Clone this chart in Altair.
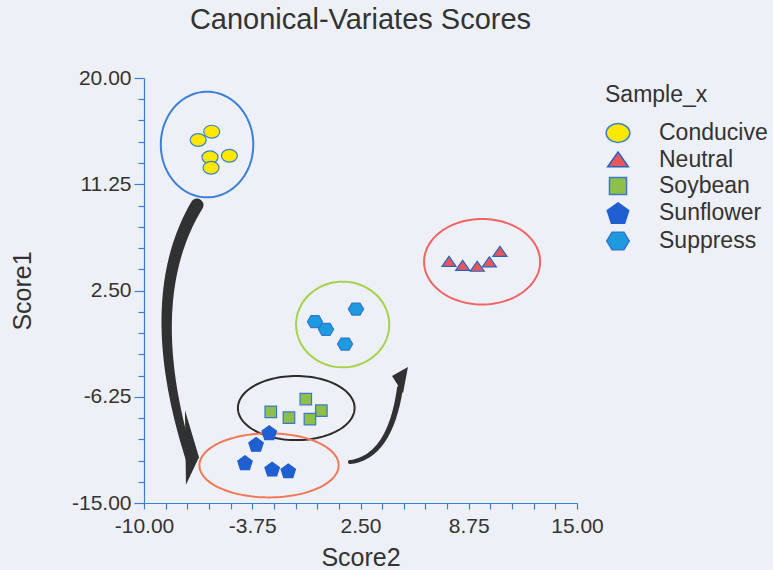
import altair as alt
import numpy as np
import pandas as pd

# ---- sample scores (Score2 on x, Score1 on y) ----
groups = ["Conducive", "Neutral", "Soybean", "Sunflower", "Suppress"]

conducive_x = [-6.87, -6.09, -6.19, -5.07, -6.13]
conducive_y = [14.89, 15.58, 13.47, 13.60, 12.61]
neutral_x = [7.61, 8.40, 9.24, 9.94, 10.55]
neutral_y = [4.87, 4.54, 4.46, 4.82, 5.69]
soybean_x = [-2.68, -1.63, -0.66, 0.24, -0.42]
soybean_y = [-7.49, -7.97, -6.44, -7.40, -8.09]
sunflower_x = [-2.77, -3.53, -4.17, -2.60, -1.67]
sunflower_y = [-9.21, -10.17, -11.68, -12.21, -12.35]
suppress_x = [-0.13, 0.51, 2.24, 1.61]
suppress_y = [-0.07, -0.70, 0.97, -1.91]

# ---- group outlines: centre and half-axes in data units ----
ring_names = ["conducive", "neutral", "suppress", "soybean", "sunflower"]
ring_cx = [-6.36, 9.52, 1.47, -1.21, -2.78]
ring_cy = [14.52, 4.87, -0.30, -7.18, -11.90]
ring_rx = [2.67, 3.35, 2.69, 3.37, 4.02]
ring_ry = [4.35, 3.52, 3.53, 2.64, 2.64]
ring_colors = ["#3b7fd8", "#f06464", "#a6d14a", "#2b2b2b", "#f07858"]

# ---- curved arrows: start, control, end (data units) ----
arrow_names = ["big", "small"]
arrow_p0 = [(-6.94, 9.54), (1.89, -11.63)]
arrow_c = [(-10.23, 1.71), (4.20, -11.22)]
arrow_p2 = [(-7.34, -11.47), (4.78, -5.54)]
arrow_w = [(13, 8), (4, 6)]
head_pos = [(-7.23, -10.40), (4.78, -4.88)]

# ---- axis ticks ----
x_ticks = np.round(np.arange(-10, 15.001, 1.25), 2).tolist()
y_ticks = np.round(np.arange(-15, 20.001, 1.75), 2).tolist()

FONT = "Liberation Sans"
TXT = "#333333"
AXIS_BLUE = "#3a80d0"

pts = pd.concat([
    pd.DataFrame({"Sample_x": g, "x": xs, "y": ys})
    for g, xs, ys in [
        ("Conducive", conducive_x, conducive_y),
        ("Neutral", neutral_x, neutral_y),
        ("Soybean", soybean_x, soybean_y),
        ("Sunflower", sunflower_x, sunflower_y),
        ("Suppress", suppress_x, suppress_y),
    ]
], ignore_index=True)

# outline paths
t = np.linspace(0, 2 * np.pi, 121)
rings = pd.concat([
    pd.DataFrame({"ring": n, "i": np.arange(len(t)),
                  "x": cx + rx * np.cos(t), "y": cy + ry * np.sin(t)})
    for n, cx, cy, rx, ry in zip(ring_names, ring_cx, ring_cy, ring_rx, ring_ry)
], ignore_index=True)

# tapered arrow bodies along quadratic Bezier curves
s = np.linspace(0, 1, 40)
arrows = pd.concat([
    pd.DataFrame({
        "arrow": n, "i": np.arange(len(s)),
        "x": (1 - s) ** 2 * p0[0] + 2 * (1 - s) * s * c[0] + s ** 2 * p2[0],
        "y": (1 - s) ** 2 * p0[1] + 2 * (1 - s) * s * c[1] + s ** 2 * p2[1],
        "w": w[0] + (w[1] - w[0]) * s,
    })
    for n, p0, c, p2, w in zip(arrow_names, arrow_p0, arrow_c, arrow_p2, arrow_w)
], ignore_index=True)

heads = pd.DataFrame({"arrow": arrow_names,
                      "x": [p[0] for p in head_pos],
                      "y": [p[1] for p in head_pos]})

major_x = "abs((datum.value + 10) / 6.25 - round((datum.value + 10) / 6.25)) < 0.01"
major_y = "abs((datum.value + 15) / 8.75 - round((datum.value + 15) / 8.75)) < 0.01"
fmt = "(datum.value < 0 ? '-' : '') + format(abs(datum.value), '.2f')"

x_axis = alt.Axis(
    values=x_ticks, labelExpr=f"{major_x} ? {fmt} : ''", grid=False,
    tickSize=6, labelPadding=6, labelFlush=False, labelOverlap=False,
    titleX=216.5, titleY=62, titleBaseline="alphabetic", titleAlign="center",
)
y_axis = alt.Axis(
    values=y_ticks, labelExpr=f"{major_y} ? {fmt} : ''", grid=False,
    tickSize={"condition": {"test": major_y, "value": 10}, "value": 6},
    labelPadding=3, labelFlush=False, labelOverlap=False,
    titleX=-122, titleY=212.5, titleAngle=270, titleBaseline="middle", titleAlign="center",
)

X = alt.X("x:Q", scale=alt.Scale(domain=[-10, 15], nice=False, zero=False), axis=x_axis, title="Score2")
Y = alt.Y("y:Q", scale=alt.Scale(domain=[-15, 20], nice=False, zero=False), axis=y_axis, title="Score1")

ring_layer = alt.Chart(rings).mark_line(strokeWidth=2).encode(
    x=X, y=Y, detail="ring:N", order="i:Q",
    color=alt.Color("ring:N", scale=alt.Scale(domain=ring_names, range=ring_colors), legend=None),
)

arrow_layer = alt.Chart(arrows).mark_trail(color="#2f3133").encode(
    x=X, y=Y, detail="arrow:N", order="i:Q",
    size=alt.Size("w:Q", scale=None, legend=None),
)

big_head = alt.Chart(heads[heads.arrow == "big"]).mark_point(
    shape="M-0.187,-0.987L0.187,0.267L-0.16,1Z", size=5625,
    filled=True, color="#2f3133", opacity=1,
).encode(x=X, y=Y)

small_head = alt.Chart(heads[heads.arrow == "small"]).mark_point(
    shape="M0.53,-0.87L-0.53,-0.27L0.2,0.87Z", size=900,
    filled=True, color="#2f3133", opacity=1,
).encode(x=X, y=Y)

shape_paths = [
    "M-1,0A1,0.8,0,1,1,1,0A1,0.8,0,1,1,-1,0Z",
    "M0,-0.68L0.875,0.57L-0.875,0.57Z",
    "M-0.72,-0.72L0.72,-0.72L0.72,0.72L-0.72,0.72Z",
    "M0,-0.86L0.904,-0.2L0.558,0.86L-0.558,0.86L-0.904,-0.2Z",
    "M-0.95,0L-0.5,-0.75L0.5,-0.75L0.95,0L0.5,0.75L-0.5,0.75Z",
]
fill_colors = ["#ffe800", "#e8585a", "#8ebf48", "#1f5fcf", "#1e9ade"]
stroke_colors = ["#3a82cc", "#2a62c4", "#3a78cc", "#1f5fcf", "#2f78d0"]

point_layer = alt.Chart(pts).mark_point(filled=True, opacity=1, size=256, strokeWidth=1.2).encode(
    x=X, y=Y,
    shape=alt.Shape("Sample_x:N", scale=alt.Scale(domain=groups, range=shape_paths), title="Sample_x"),
    fill=alt.Fill("Sample_x:N", scale=alt.Scale(domain=groups, range=fill_colors), title="Sample_x"),
    stroke=alt.Stroke("Sample_x:N", scale=alt.Scale(domain=groups, range=stroke_colors), title="Sample_x"),
)

chart = alt.layer(ring_layer, arrow_layer, big_head, small_head, point_layer).properties(
    width=433, height=425,
    padding={"left": 144, "top": 78, "right": 196, "bottom": 67},
    autosize=alt.AutoSizeParams(type="none"),
    background="#eef0f7",
    title=alt.TitleParams(
        "Canonical-Variates Scores", fontSize=29, font=FONT, fontWeight="normal",
        color=TXT, anchor="middle", baseline="alphabetic", offset=9,
    ),
).configure_view(stroke=None).configure_axis(
    domainColor=AXIS_BLUE, tickColor=AXIS_BLUE, domainWidth=1.2, tickWidth=1.2,
    labelFont=FONT, labelFontSize=21, labelColor=TXT,
    titleFont=FONT, titleFontSize=25, titleColor=TXT, titleFontWeight="normal",
).configure_legend(
    orient="none", legendX=461, legendY=6,
    titleFont=FONT, titleFontSize=23, titleFontWeight="normal", titleColor=TXT, titlePadding=13,
    labelFont=FONT, labelFontSize=23, labelColor=TXT, labelOffset=28,
    symbolSize=560, symbolStrokeWidth=1.5, symbolOpacity=1, rowPadding=1,
)

chart.save("out.html", embed_options={"renderer": "svg", "actions": False})
